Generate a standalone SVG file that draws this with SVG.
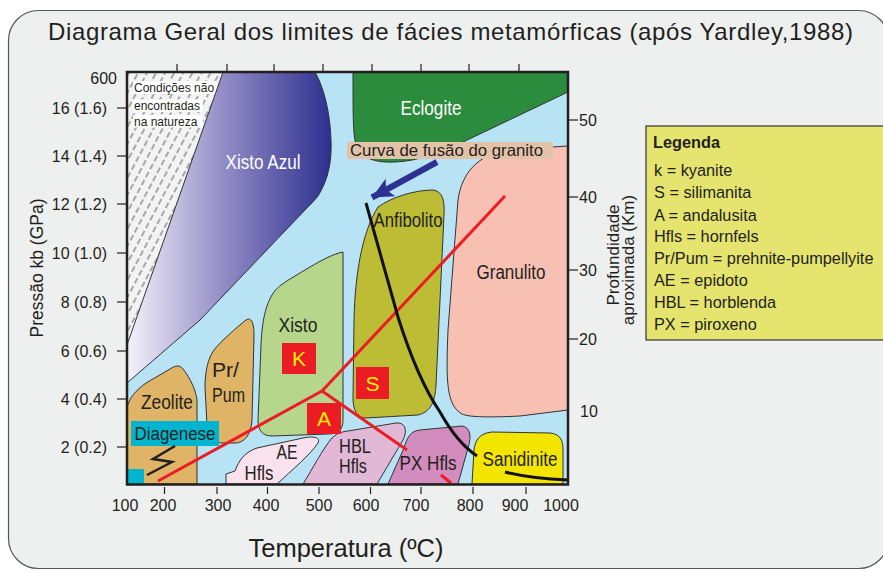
<svg xmlns="http://www.w3.org/2000/svg" width="883" height="572" viewBox="0 0 883 572">
<defs>
<style>
.t{font-family:"Liberation Sans",Arial,sans-serif;fill:#231f20}
.reg{stroke:#333;stroke-width:1}
.lbl{font-family:"Liberation Sans",Arial,sans-serif;fill:#231f20;font-size:20px;text-anchor:middle}
.ax{font-family:"Liberation Sans",Arial,sans-serif;fill:#231f20;font-size:16px}
.tick{stroke:#231f20;stroke-width:1.2}
.red{stroke:#ec1c24;stroke-width:3;fill:none}
.box{fill:#ec1c24}
.let{font-family:"Liberation Sans",Arial,sans-serif;fill:#fff200;font-size:21px;text-anchor:middle}
.leg{font-family:"Liberation Sans",Arial,sans-serif;fill:#231f20;font-size:16.3px}
</style>
<linearGradient id="gAzul" x1="127" y1="0" x2="332" y2="0" gradientUnits="userSpaceOnUse">
<stop offset="0" stop-color="#f4f2fa"/>
<stop offset="0.45" stop-color="#9790c8"/>
<stop offset="1" stop-color="#2b2e8f"/>
</linearGradient>
<pattern id="hatch" patternUnits="userSpaceOnUse" width="8" height="9" patternTransform="rotate(28)">
<rect width="8" height="9" fill="#f3f3f3"/>
<line x1="4" y1="1" x2="4" y2="7" stroke="#333" stroke-width="0.8"/>
</pattern>
<marker id="arrowBlue" markerUnits="userSpaceOnUse" markerWidth="26" markerHeight="22" refX="21" refY="10" orient="auto">
<path d="M0,0 L21,10 L0,20 L5,10 Z" fill="#2e3192"/>
</marker>
</defs>

<!-- frame -->
<rect x="0" y="0" width="883" height="572" fill="#ffffff"/>
<rect x="8.5" y="10.5" width="880" height="558" rx="30" ry="30" fill="#eeefef" stroke="#555" stroke-width="1.2"/>

<text class="t" x="450.5" y="39.5" font-size="24" text-anchor="middle" textLength="805" lengthAdjust="spacing">Diagrama Geral dos limites de fácies metamórficas (após Yardley,1988)</text>

<!-- plot background -->
<rect x="127" y="72" width="441" height="412" fill="#b7e3f5"/>

<g id="nao-natureza">
<path d="M127,72 L223,72 L127,345 Z" fill="url(#hatch)"/>
<rect x="133" y="81" width="84" height="13" fill="#fff"/>
<rect x="133" y="99.5" width="70" height="12.5" fill="#fff"/>
<rect x="133" y="115" width="70" height="12.5" fill="#fff"/>
<text class="t" x="134" y="92" font-size="12">Condições não</text>
<text class="t" x="134" y="110" font-size="12">encontradas</text>
<text class="t" x="134" y="125.5" font-size="12">na natureza</text>
</g>

<g id="xisto-azul">
<path class="reg" d="M223,72 L315,72 C323,86 330,110 331,140 C332,162 328,180 318,196 C314,201 310,205 305,210 L200,320 L127,383 L127,345 Z" fill="url(#gAzul)"/>
<text class="lbl" x="263" y="169" style="fill:#fff" textLength="75" lengthAdjust="spacingAndGlyphs">Xisto Azul</text>
</g>

<g id="eclogite">
<path class="reg" d="M353,72 L568,72 L568,92 L463,142 C440,152 420,161 395,162 C375,163 362,158 357,148 C353,138 353,120 353,72 Z" fill="#2a8c3c"/>
<text class="lbl" x="431" y="115" style="fill:#fff" font-size="22" textLength="61" lengthAdjust="spacingAndGlyphs">Eclogite</text>
</g>

<g id="anfibolito">
<path class="reg" d="M378,207 C392,197 415,190 433,190 C442,191 445,200 444,215 L440,300 L436,385 C435,403 430,412 418,415 L366,418 C357,418 353,410 353,398 L354,320 C355,275 362,232 378,207 Z" fill="#bdbc35"/>
<text class="lbl" x="408" y="227" textLength="69" lengthAdjust="spacingAndGlyphs">Anfibolito</text>
</g>

<g id="granulito">
<path class="reg" d="M568,146 L505,150 C478,156 462,172 458,200 L448,330 C446,380 446,405 462,414 C470,418 500,417 520,416 L568,410 Z" fill="#f8bfb3"/>
<text class="lbl" x="511" y="279" textLength="69" lengthAdjust="spacingAndGlyphs">Granulito</text>
</g>

<g id="xisto">
<path class="reg" d="M343,252 L343,420 C343,430 338,434 328,434 L272,436 C262,436 258,430 258,420 L261,345 C262,320 266,305 272,295 C276,288 282,284 290,279 L310,267 C322,260 333,254 343,252 Z" fill="#b5d68b"/>
<text class="lbl" x="298" y="332" textLength="39" lengthAdjust="spacingAndGlyphs">Xisto</text>
</g>

<g id="pr-pum">
<path class="reg" d="M214,350 C222,340 236,328 246,320 C251,317 254,322 254,335 L252,420 C251,434 245,443 235,443 L222,443 C212,443 208,436 207,425 L205,387 C205,372 208,358 214,350 Z" fill="#dfb466"/>
<text class="t" x="212" y="377" font-size="20" textLength="27" lengthAdjust="spacingAndGlyphs">Pr/</text>
<text class="t" x="212" y="402" font-size="20" textLength="33" lengthAdjust="spacingAndGlyphs">Pum</text>
</g>

<g id="zeolite">
<path class="reg" d="M127,408 L127,484 L197,484 L197,400 C196,390 190,378 183,369 C180,365 176,365 170,369 L146,383 C136,390 129,398 127,408 Z" fill="#dfb466"/>
<text class="lbl" x="167" y="409" textLength="52" lengthAdjust="spacingAndGlyphs">Zeolite</text>
</g>

<g id="diagenese">
<rect x="131" y="421" width="88" height="25" fill="#00b5cd"/>
<text class="t" x="175" y="440" font-size="18" text-anchor="middle" textLength="81" lengthAdjust="spacingAndGlyphs">Diagenese</text>
<rect x="127" y="469" width="17" height="15" fill="#00b5cd"/>
<polyline points="175,446 153,459 172,462 147,475" fill="none" stroke="#231f20" stroke-width="2.5"/>
</g>

<g id="ae-hfls">
<path class="reg" d="M226,484 L226,474 L235,471 C239,460 245,452 257,448 L303,438 C313,436 321,437 318,443 C310,455 292,470 277,484 Z" fill="#f9e2ee"/>
<text class="lbl" x="287" y="459" textLength="21" lengthAdjust="spacingAndGlyphs">AE</text>
<text class="lbl" x="259" y="480" textLength="29" lengthAdjust="spacingAndGlyphs">Hfls</text>
</g>

<g id="hbl-hfls">
<path class="reg" d="M303,484 C313,468 322,450 332,438 C336,434 340,432 348,431 L396,423 C405,422 408,430 403,440 L377,484 Z" fill="#e2b8d7"/>
<text class="lbl" x="355" y="453" textLength="32" lengthAdjust="spacingAndGlyphs">HBL</text>
<text class="lbl" x="353" y="473" textLength="28" lengthAdjust="spacingAndGlyphs">Hfls</text>
</g>

<g id="px-hfls">
<path class="reg" d="M388,484 L404,448 C407,438 410,431 420,430 L462,426 C470,427 472,436 468,448 L458,484 Z" fill="#d28cbd"/>
<text class="lbl" x="428" y="470" textLength="57" lengthAdjust="spacingAndGlyphs">PX Hfls</text>
</g>

<g id="sanidinite">
<path class="reg" d="M472,484 L474,450 C475,440 480,433 492,432 L550,433 C560,434 563,440 563,450 L563,484 Z" fill="#f2e500"/>
<text class="lbl" x="520" y="466" textLength="75" lengthAdjust="spacingAndGlyphs">Sanidinite</text>
</g>

<g id="connectors">
<line class="red" x1="158" y1="481" x2="322" y2="391"/>
<line class="red" x1="322" y1="391" x2="505" y2="196"/>
<line class="red" x1="322" y1="391" x2="407" y2="450"/>
<line class="red" x1="441" y1="475" x2="451" y2="483"/>
<path d="M366,203 L398,317 C410,355 425,390 440,412 C450,430 462,446 477,456" fill="none" stroke="#111" stroke-width="3"/>
<path d="M505,472 C525,477 545,479 568,480" fill="none" stroke="#111" stroke-width="3"/>
<line x1="437" y1="162" x2="372" y2="197.5" stroke="#2e3192" stroke-width="6" marker-end="url(#arrowBlue)"/>
</g>

<g id="kyanite">
<rect class="box" x="282" y="343" width="34" height="31"/>
<text class="let" x="299" y="366">K</text>
</g>
<g id="silimanita">
<rect class="box" x="356" y="367" width="33" height="32"/>
<text class="let" x="372.5" y="391">S</text>
</g>
<g id="andalusita">
<rect class="box" x="307" y="403" width="34" height="31"/>
<text class="let" x="324" y="426">A</text>
</g>

<g id="curva-label">
<rect x="347" y="142" width="206" height="17" fill="#e3c3a8"/>
<text class="t" x="350" y="156" font-size="16.5" textLength="193" lengthAdjust="spacingAndGlyphs">Curva de fusão do granito</text>
</g>

<!-- plot frame -->
<rect x="127" y="72" width="441" height="412.5" fill="none" stroke="#231f20" stroke-width="2.5"/>

<g id="axes">
<g class="tick">
<line x1="177" y1="64" x2="177" y2="72"/>
<line x1="227" y1="64" x2="227" y2="72"/>
<line x1="274" y1="64" x2="274" y2="72"/>
<line x1="323" y1="64" x2="323" y2="72"/>
<line x1="372" y1="64" x2="372" y2="72"/>
<line x1="421" y1="64" x2="421" y2="72"/>
<line x1="469" y1="64" x2="469" y2="72"/>
<line x1="519" y1="64" x2="519" y2="72"/>
<line x1="117" y1="108" x2="127" y2="108"/>
<line x1="117" y1="156" x2="127" y2="156"/>
<line x1="117" y1="204" x2="127" y2="204"/>
<line x1="117" y1="253" x2="127" y2="253"/>
<line x1="117" y1="302" x2="127" y2="302"/>
<line x1="117" y1="351" x2="127" y2="351"/>
<line x1="117" y1="399" x2="127" y2="399"/>
<line x1="117" y1="447" x2="127" y2="447"/>
<line x1="568" y1="120" x2="578" y2="120"/>
<line x1="568" y1="197" x2="578" y2="197"/>
<line x1="568" y1="270" x2="578" y2="270"/>
<line x1="568" y1="339" x2="578" y2="339"/>
<line x1="164.5" y1="487" x2="164.5" y2="494"/>
<line x1="217" y1="487" x2="217" y2="494"/>
<line x1="267.5" y1="487" x2="267.5" y2="494"/>
<line x1="319" y1="487" x2="319" y2="494"/>
<line x1="370.5" y1="487" x2="370.5" y2="494"/>
<line x1="421" y1="487" x2="421" y2="494"/>
<line x1="473" y1="487" x2="473" y2="494"/>
<line x1="526" y1="487" x2="526" y2="494"/>
</g>
<g class="ax" text-anchor="end">
<text x="117" y="84">600</text>
<text x="107" y="114">16 (1.6)</text>
<text x="107" y="162">14 (1.4)</text>
<text x="107" y="210">12 (1.2)</text>
<text x="107" y="259">10 (1.0)</text>
<text x="107" y="308">8 (0.8)</text>
<text x="107" y="357">6 (0.6)</text>
<text x="107" y="405">4 (0.4)</text>
<text x="107" y="453">2 (0.2)</text>
</g>
<g class="ax">
<text x="579" y="126">50</text>
<text x="579" y="203">40</text>
<text x="579" y="276">30</text>
<text x="579" y="345">20</text>
<text x="580" y="417">10</text>
</g>
<g class="ax" text-anchor="middle">
<text x="125" y="511">100</text>
<text x="163" y="511">200</text>
<text x="218" y="511">300</text>
<text x="266" y="511">400</text>
<text x="319" y="511">500</text>
<text x="366" y="511">600</text>
<text x="416" y="511">700</text>
<text x="470" y="511">800</text>
<text x="515" y="511">900</text>
<text x="561" y="511">1000</text>
</g>
<text class="t" x="346" y="557" font-size="25" text-anchor="middle" textLength="195" lengthAdjust="spacingAndGlyphs">Temperatura (ºC)</text>
<text class="t" font-size="17.5" text-anchor="middle" transform="translate(43,268) rotate(-90)">Pressão kb (GPa)</text>
<text class="t" font-size="17" text-anchor="middle" transform="translate(619,255) rotate(-90)">Profundidade</text>
<text class="t" font-size="17" text-anchor="middle" transform="translate(634,260) rotate(-90)">aproximada (Km)</text>
</g>

<g id="legenda">
<rect x="646" y="126" width="245" height="214" fill="#e4e46f" stroke="#333" stroke-width="1.2"/>
<text class="leg" x="653" y="148" font-weight="bold">Legenda</text>
<text class="leg" x="654" y="176">k = kyanite</text>
<text class="leg" x="654" y="198">S = silimanita</text>
<text class="leg" x="654" y="221">A = andalusita</text>
<text class="leg" x="654" y="242">Hfls = hornfels</text>
<text class="leg" x="654" y="264">Pr/Pum = prehnite-pumpellyite</text>
<text class="leg" x="654" y="286">AE = epidoto</text>
<text class="leg" x="654" y="308">HBL = horblenda</text>
<text class="leg" x="654" y="330">PX = piroxeno</text>
</g>
</svg>
